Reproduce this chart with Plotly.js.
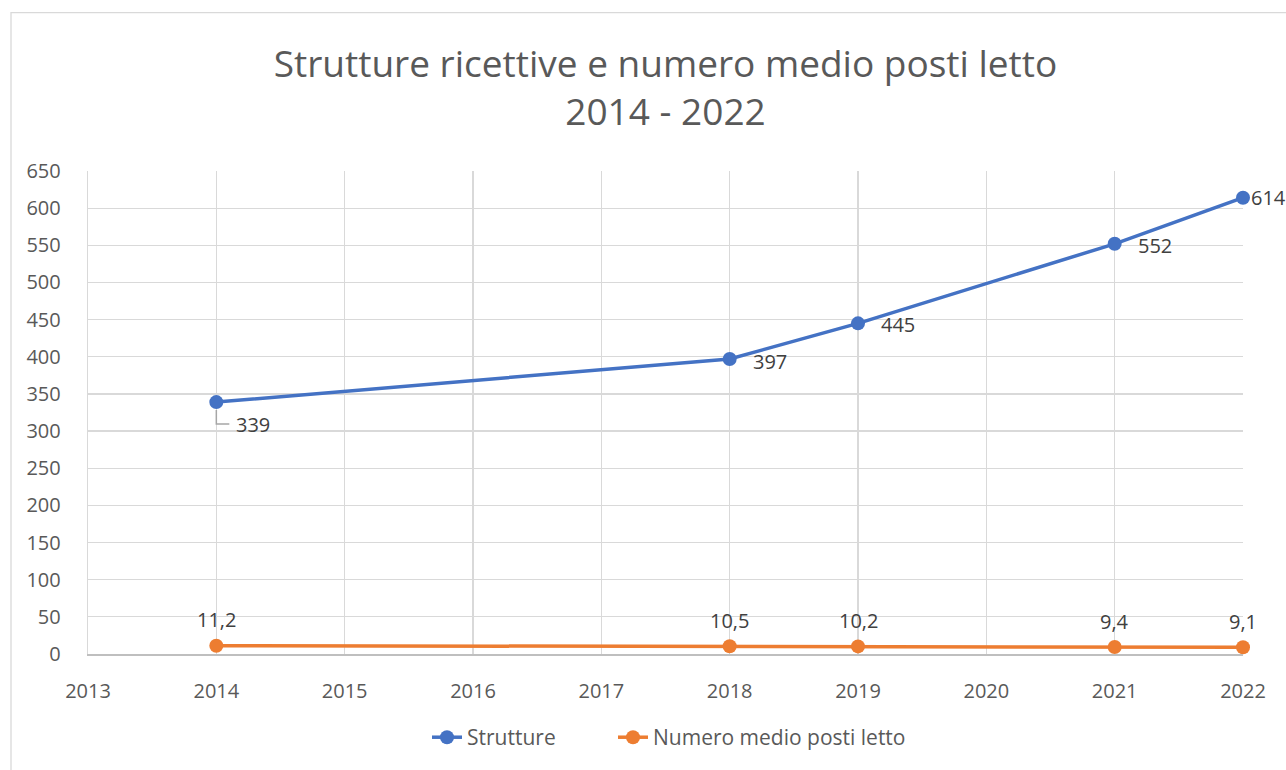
<!DOCTYPE html>
<html>
<head>
<meta charset="utf-8">
<script src="https://cdn.plot.ly/plotly-3.0.1.min.js"></script>
<style>
  html, body { margin: 0; padding: 0; background: #ffffff; }
  #chart { width: 1286px; height: 770px; }
</style>
</head>
<body>
<div id="chart"></div>
<script>
const years = [2014, 2018, 2019, 2021, 2022];
const strutture = [339, 397, 445, 552, 614];
const postiLetto = [11.2, 10.5, 10.2, 9.4, 9.1];
const seriesNames = ['Strutture', 'Numero medio posti letto'];
const titleLines = ['Strutture ricettive e numero medio posti letto', '2014 - 2022'];

const FONT = '"Open Sans", "Noto Sans", sans-serif';
const BLUE = '#4472C4';
const ORANGE = '#ED7D31';

const fmt = v => String(v).replace('.', ',');

const traces = [
  {
    x: years, y: strutture, name: seriesNames[0], type: 'scatter', mode: 'lines+markers',
    line: { color: BLUE, width: 3.5 }, marker: { color: BLUE, size: 14 },
    cliponaxis: false, hoverinfo: 'x+y', legend: 'legend'
  },
  {
    x: years, y: postiLetto, name: seriesNames[1], type: 'scatter', mode: 'lines+markers',
    line: { color: ORANGE, width: 3.5 }, marker: { color: ORANGE, size: 14 },
    cliponaxis: false, hoverinfo: 'x+y', legend: 'legend2'
  }
];

const blueShift = [[18, -22], [21, -2], [21, -1], [21, -2], [6, 0]];
const annotations = [];
years.forEach((yr, i) => {
  annotations.push({
    x: yr, y: strutture[i], xref: 'x', yref: 'y', text: fmt(strutture[i]),
    showarrow: false, xanchor: 'left', yanchor: 'middle',
    xshift: blueShift[i][0], yshift: blueShift[i][1],
    font: { family: FONT, size: 20, color: '#404040' }
  });
  annotations.push({
    x: yr, y: postiLetto[i], xref: 'x', yref: 'y', text: fmt(postiLetto[i]),
    showarrow: false, xanchor: 'center', yanchor: 'middle',
    xshift: 0, yshift: 26,
    font: { family: FONT, size: 20, color: '#404040' }
  });
});

const legendBase = {
  orientation: 'h', xanchor: 'left', y: -0.173, yanchor: 'middle',
  font: { family: FONT, size: 21, color: '#595959' },
  itemclick: false, itemdoubleclick: false
};

const layout = {
  width: 1286, height: 770,
  paper_bgcolor: '#ffffff', plot_bgcolor: '#ffffff',
  margin: { l: 88, r: 43, t: 171, b: 114 },
  separators: ',.',
  title: {
    text: titleLines.join('<br>'),
    x: 0.5, xref: 'paper', xanchor: 'center',
    y: 0.9, yanchor: 'top',
    font: { family: FONT, size: 37, color: '#595959' }
  },
  showlegend: true,
  legend: Object.assign({}, legendBase, { x: (427 - 88) / 1155 }),
  legend2: Object.assign({}, legendBase, { x: (613 - 88) / 1155 }),
  xaxis: {
    range: [2013, 2022], dtick: 1, tick0: 2013,
    showgrid: true, gridcolor: '#d9d9d9', gridwidth: 1.3,
    showline: true, linecolor: '#bfbfbf', linewidth: 2,
    zeroline: false, ticks: '', ticklabelstandoff: 18,
    tickfont: { family: FONT, size: 20, color: '#595959' },
    fixedrange: true
  },
  yaxis: {
    range: [0, 650], dtick: 50, tick0: 0,
    showgrid: true, gridcolor: '#d9d9d9', gridwidth: 1.3,
    showline: true, linecolor: '#d9d9d9', linewidth: 1.3,
    zeroline: false, ticks: '', ticklabelstandoff: 22,
    tickfont: { family: FONT, size: 20, color: '#595959' },
    fixedrange: true
  },
  annotations: annotations,
  shapes: [
    { type: 'rect', xref: 'paper', yref: 'paper',
      x0: (11 - 88) / 1155, x1: 1.2, y0: -0.5, y1: (656 - 12) / 485,
      line: { color: '#d9d9d9', width: 1.3 }, fillcolor: 'rgba(0,0,0,0)', layer: 'below' },
    { type: 'path', xref: 'x', yref: 'y', xsizemode: 'pixel', ysizemode: 'pixel',
      xanchor: years[0], yanchor: strutture[0],
      path: 'M0,-8 L0,-22 L13,-22',
      line: { color: '#a6a6a6', width: 1.5 } }
  ]
};

Plotly.newPlot('chart', traces, layout, { displayModeBar: false, staticPlot: true });
</script>
</body>
</html>
